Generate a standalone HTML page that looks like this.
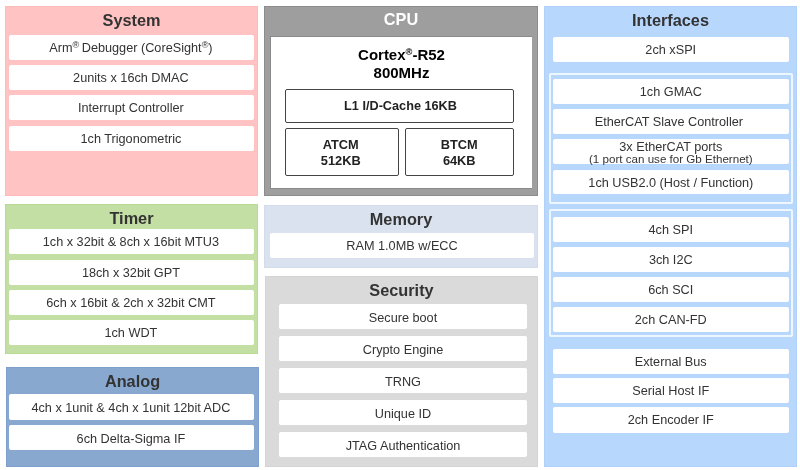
<!DOCTYPE html>
<html><head><meta charset="utf-8">
<style>
*{margin:0;padding:0;box-sizing:border-box}
html,body{width:800px;height:470px;background:#fff;overflow:hidden;font-family:"Liberation Sans",sans-serif}
body{will-change:transform}
.s{position:absolute}
.h{position:absolute;left:0;right:0;top:0;height:28px;line-height:28px;text-align:center;font-weight:bold;font-size:16.3px;color:#333}
.b{position:absolute;background:#fff;border-radius:2px;text-align:center;font-size:12.7px;color:#333;line-height:26.5px;white-space:nowrap}
sup{font-size:72%;line-height:0;vertical-align:0;position:relative;top:-0.37em}
</style></head><body>

<!-- System -->
<div class="s" style="left:5px;top:6px;width:253px;height:190px;background:#ffc3c3;border:1px solid #ffbaba">
  <div class="h" style="top:-1px">System</div>
</div>
<div class="b" style="padding-right:1.2px;left:9px;top:34.5px;width:245px;height:25.2px">Arm<sup style="margin-right:-1px">®</sup> Debugger (CoreSight<sup>®</sup>)</div>
<div class="b" style="padding-right:1.2px;left:9px;top:64.8px;width:245px;height:25.2px">2units x 16ch DMAC</div>
<div class="b" style="padding-right:1.2px;left:9px;top:95.3px;width:245px;height:25.2px">Interrupt Controller</div>
<div class="b" style="padding-right:1.2px;left:9px;top:125.8px;width:245px;height:25.2px">1ch Trigonometric</div>

<!-- Timer -->
<div class="s" style="left:5px;top:204px;width:253px;height:150px;background:#c3dfa3;border:1px solid #b9da95">
  <div class="h" style="top:-1px">Timer</div>
</div>
<div class="b" style="padding-right:1.2px;left:9px;top:229.2px;width:245px;height:25.3px">1ch x 32bit &amp; 8ch x 16bit MTU3</div>
<div class="b" style="padding-right:1.2px;left:9px;top:259.5px;width:245px;height:25.3px">18ch x 32bit GPT</div>
<div class="b" style="padding-right:1.2px;left:9px;top:290px;width:245px;height:25.3px">6ch x 16bit &amp; 2ch x 32bit CMT</div>
<div class="b" style="padding-right:1.2px;left:9px;top:320.2px;width:245px;height:25.3px">1ch WDT</div>

<!-- Analog -->
<div class="s" style="left:6px;top:367px;width:253px;height:100px;background:#88a8d0;border:1px solid #7e9fcb">
  <div class="h" style="top:-1px">Analog</div>
</div>
<div class="b" style="padding-right:1.2px;left:9px;top:394.3px;width:245px;height:25.4px;line-height:28px">4ch x 1unit &amp; 4ch x 1unit 12bit ADC</div>
<div class="b" style="padding-right:1.2px;left:9px;top:425.2px;width:245px;height:25px;line-height:28px">6ch Delta-Sigma IF</div>

<!-- CPU -->
<div class="s" style="left:264px;top:6px;width:274px;height:189.5px;background:#9e9e9e;border:1px solid #8c8c8c">
  <div class="h" style="top:-2px;color:#fff">CPU</div>
</div>
<div class="s" style="left:270px;top:36px;width:262px;height:153px;background:#fff;border-left:1px solid #8a8a8a;border-top:1px solid #8a8a8a;border-bottom:1px solid #8a8a8a"></div>
<div class="s" style="left:271px;top:46px;width:261px;text-align:center;font-weight:bold;font-size:15px;line-height:17.5px;color:#000">Cortex<sup style="font-size:62%;top:-0.5em">®</sup>-R52<br>800MHz</div>
<div class="s" style="left:285px;top:89px;width:229px;height:33.5px;border:1.5px solid #444;border-radius:2px;text-align:center;font-weight:bold;font-size:12.7px;line-height:32.5px;color:#222;padding-left:2px">L1 I/D-Cache 16KB</div>
<div class="s" style="left:285px;top:128px;width:113.5px;height:48px;border:1.5px solid #444;border-radius:2px;text-align:center;font-weight:bold;font-size:12.8px;line-height:16px;color:#222;padding-top:8px;padding-right:2px">ATCM<br>512KB</div>
<div class="s" style="left:404.5px;top:128px;width:109.5px;height:48px;border:1.5px solid #444;border-radius:2px;text-align:center;font-weight:bold;font-size:12.8px;line-height:16px;color:#222;padding-top:8px">BTCM<br>64KB</div>

<!-- Memory -->
<div class="s" style="left:264px;top:205px;width:274px;height:63.3px;background:#d9e2ee;border:1px solid #d2dcea">
  <div class="h" style="top:-1px">Memory</div>
</div>
<div class="b" style="left:270px;top:232.7px;width:264px;height:25.1px">RAM 1.0MB w/ECC</div>

<!-- Security -->
<div class="s" style="left:265px;top:276px;width:273px;height:191px;background:#dadada;border:1px solid #d4d4d4">
  <div class="h" style="top:-1px">Security</div>
</div>
<div class="b" style="left:279px;top:304.3px;width:248px;height:25px;line-height:28px">Secure boot</div>
<div class="b" style="left:279px;top:336px;width:248px;height:25.3px;line-height:28px">Crypto Engine</div>
<div class="b" style="left:279px;top:368px;width:248px;height:25.3px;line-height:28px">TRNG</div>
<div class="b" style="left:279px;top:400px;width:248px;height:25.3px;line-height:28px">Unique ID</div>
<div class="b" style="left:279px;top:432px;width:248px;height:25px;line-height:28px">JTAG Authentication</div>

<!-- Interfaces -->
<div class="s" style="left:544px;top:6px;width:253px;height:461px;background:#b8d7fd;border:1px solid #b0d0f8">
  <div class="h" style="top:-1px">Interfaces</div>
</div>
<div class="b" style="left:553px;top:37.2px;width:235.5px;height:25px">2ch xSPI</div>
<div class="s" style="left:549px;top:73px;width:243.5px;height:130.5px;border:2px solid #eef6ff;border-radius:2px"></div>
<div class="b" style="left:553px;top:79px;width:235.7px;height:24.8px">1ch GMAC</div>
<div class="b" style="left:553px;top:109px;width:235.7px;height:25px;padding-right:4px">EtherCAT Slave Controller</div>
<div class="b" style="left:553px;top:139.2px;width:235.7px;height:25px;line-height:11.5px;padding-top:2.5px">3x EtherCAT ports<br><span style="font-size:11.6px">(1 port can use for Gb Ethernet)</span></div>
<div class="b" style="left:553px;top:169.5px;width:235.7px;height:24.8px">1ch USB2.0 (Host / Function)</div>
<div class="s" style="left:549px;top:209px;width:243.5px;height:128px;border:2px solid #eef6ff;border-radius:2px"></div>
<div class="b" style="left:553px;top:216.8px;width:235.5px;height:25px">4ch SPI</div>
<div class="b" style="left:553px;top:246.5px;width:235.5px;height:25.5px">3ch I2C</div>
<div class="b" style="left:553px;top:276.8px;width:235.5px;height:25px">6ch SCI</div>
<div class="b" style="left:553px;top:306.5px;width:235.5px;height:25.3px">2ch CAN-FD</div>
<div class="b" style="left:553px;top:349px;width:235.5px;height:25px">External Bus</div>
<div class="b" style="left:553px;top:378px;width:235.5px;height:25px">Serial Host IF</div>
<div class="b" style="left:553px;top:407px;width:235.5px;height:25.5px">2ch Encoder IF</div>

</body></html>
